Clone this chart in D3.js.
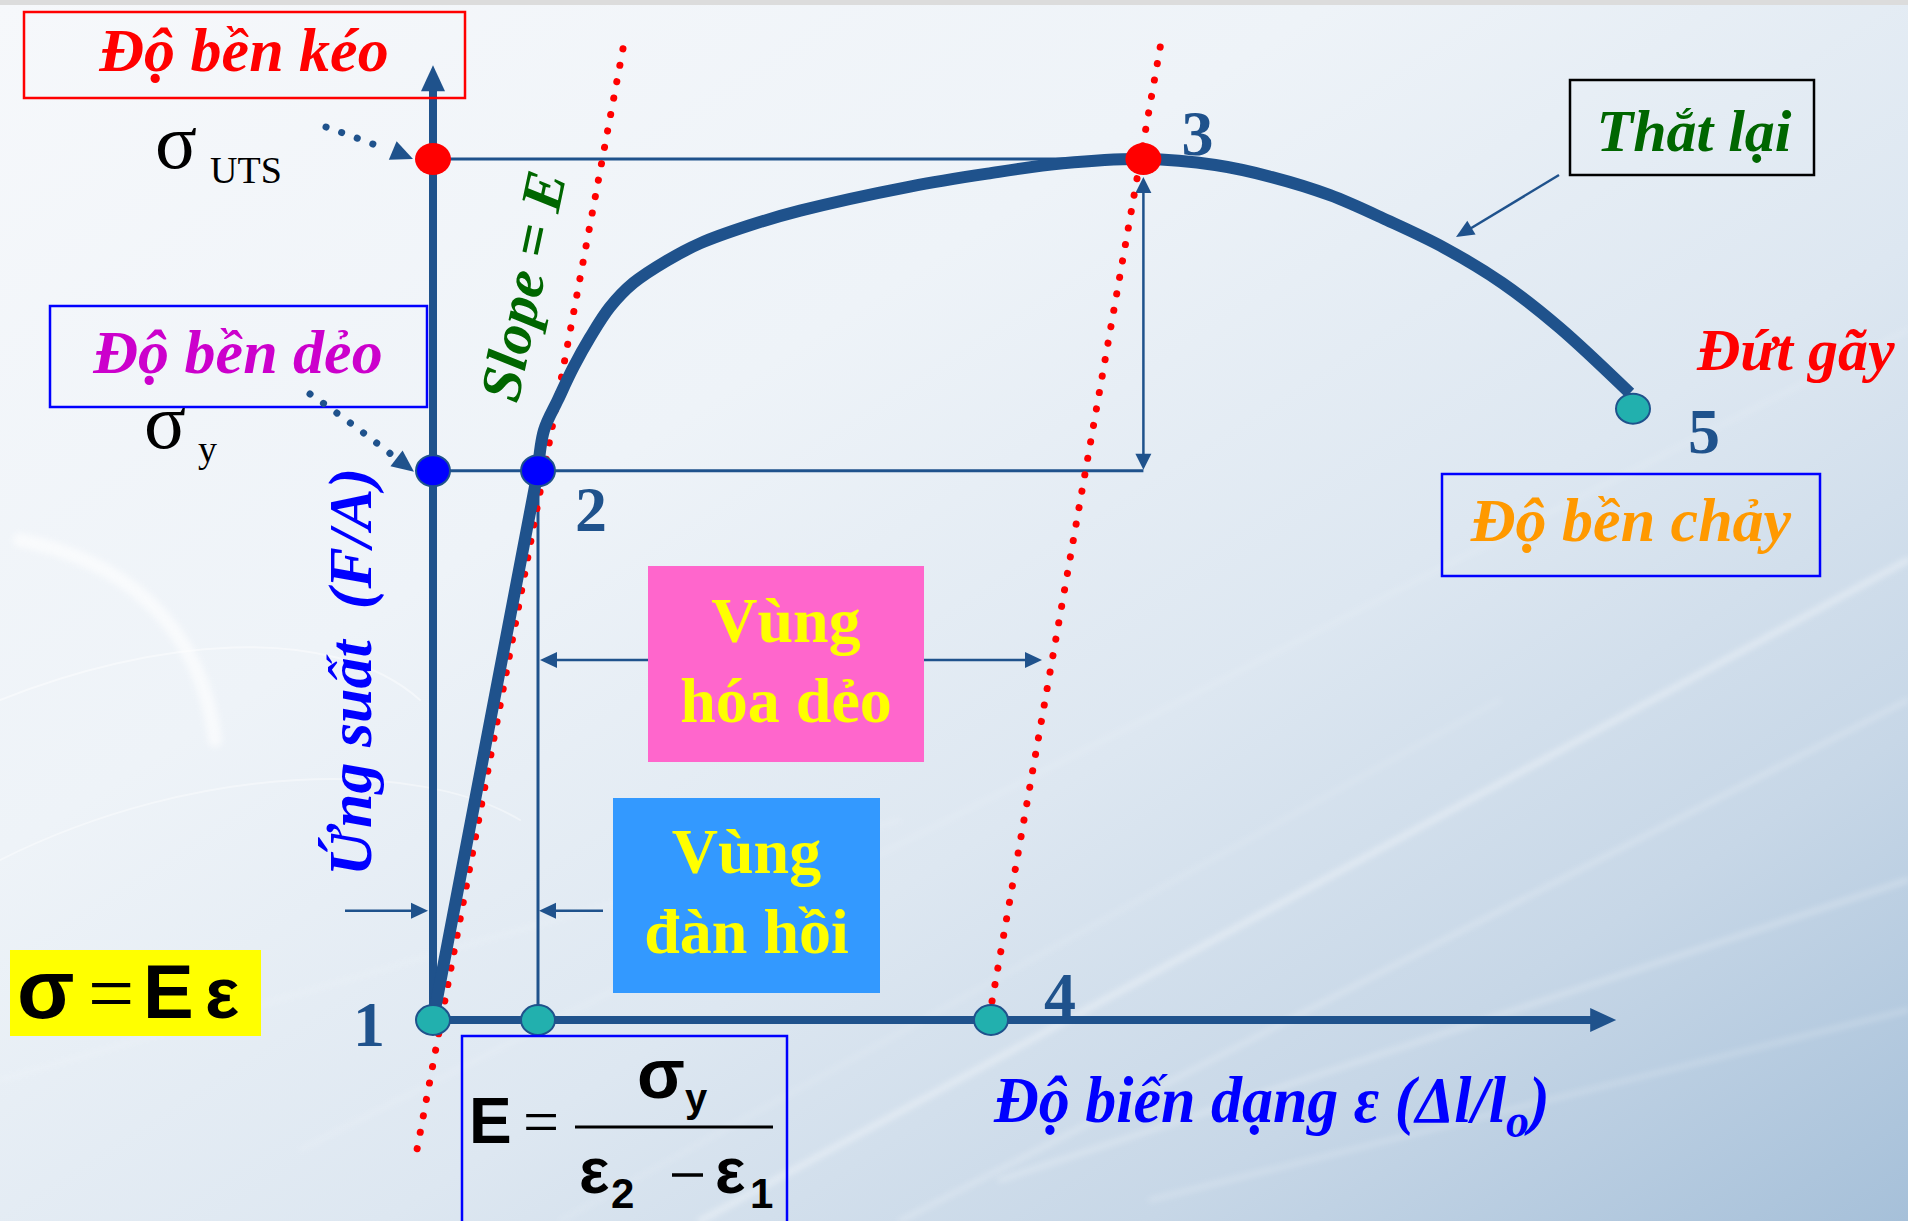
<!DOCTYPE html>
<html><head><meta charset="utf-8">
<script src="https://cdn.jsdelivr.net/npm/d3@7"></script>
<style>
html,body{margin:0;padding:0;overflow:hidden;background:#eef2f7}
svg{display:block}
text{font-family:"Liberation Serif","Times New Roman",serif}
.sans{font-family:"Liberation Sans",Arial,sans-serif}
</style></head><body>
<svg id="chart" width="1908" height="1221"></svg>
<script>
// Engineering stress–strain curve: strain as % of the plotted span, stress as % of UTS
const curveStrain = [0, 8.75, 9.25, 10.4, 11.7, 13.1, 14.75, 16.7, 19.5, 22.25, 26.4, 30.6, 39.75, 46.2, 52.5, 59.2, 65.2, 69.9, 74.75, 79.5, 84.25, 89.1, 93.8, 99.75];
const curveStress = [0, 63.8, 68.5, 72.0, 75.8, 79.3, 82.8, 85.6, 88.2, 90.2, 92.3, 94.0, 96.8, 98.3, 99.5, 100, 99.3, 97.9, 95.8, 92.9, 89.7, 85.6, 80.5, 72.8];

// Characteristic points
const yieldStrain = 8.75, yieldStress = 63.8;
const utsStrain = 59.2, utsStress = 100;
const offsetStrain = 46.5;
const fractureStrain = 100, fractureStress = 71.0;

// Markers: strain, stress, kind
const markerStrain = [0, yieldStrain, offsetStrain, 0, yieldStrain, 0, utsStrain, fractureStrain];
const markerStress = [0, 0, 0, yieldStress, yieldStress, utsStress, utsStress, fractureStress];
const markerKind = ["base", "base", "base", "yield", "yield", "uts", "uts", "base"];

// Numbered points
const pointLabels = ["1", "2", "3", "4", "5"];
const pointStrain = [0, yieldStrain, utsStrain, offsetStrain, fractureStrain];
const pointStress = [0, yieldStress, utsStress, 0, fractureStress];

// Red dotted lines of slope E (through origin, and offset through point 4)
const slopeLineStrain = [15.83, -1.42];
const slopeLineStress = [112.8, -15.7];
const offsetLineStrain = [60.6, offsetStrain];
const offsetLineStress = [113.0, 1.5];

// Axis extents
const axisStrainMax = 98.6;
const axisStressMax = 110.9;

// Region arrow levels (stress)
const plasticArrowStress = 41.8;
const plasticArrowEnd = 50.75;
const elasticArrowStress = 12.7;

const DARK = "#1f528c";
const svg = d3.select("#chart");
const x = d3.scaleLinear().domain([0, 100]).range([433, 1633]);
const y = d3.scaleLinear().domain([0, 100]).range([1020, 159]);

// ---------- background ----------
const defs = svg.append("defs");
const bg = defs.append("linearGradient").attr("id", "bg")
  .attr("x1", "0").attr("y1", "0").attr("x2", "1").attr("y2", "1");
[["0", "#f6f8fb"], ["0.35", "#eef3f8"], ["0.6", "#dde7f1"], ["0.8", "#c7d7e7"], ["1", "#a6c0d9"]]
  .forEach(([o, c]) => bg.append("stop").attr("offset", o).attr("stop-color", c));
const blur = defs.append("filter").attr("id", "soft").attr("x", "-20%").attr("y", "-20%").attr("width", "140%").attr("height", "140%");
blur.append("feGaussianBlur").attr("stdDeviation", 3);

svg.append("rect").attr("width", 1908).attr("height", 1221).attr("fill", "url(#bg)");
svg.append("rect").attr("width", 1908).attr("height", 5).attr("fill", "#dcdcdc");

// faint light streaks
const streaks = svg.append("g").attr("stroke", "#ffffff").attr("fill", "none").attr("stroke-linecap", "round");
[
  [[700, 1221], [1908, 560], 5, 0.45],
  [[900, 1221], [1908, 700], 3, 0.4],
  [[300, 1150], [1908, 330], 2, 0.3],
  [[1000, 1180], [1908, 880], 4, 0.35],
  [[0, 1080], [900, 820], 2, 0.3],
  [[560, 1221], [1500, 700], 2, 0.3],
  [[1150, 1200], [1908, 1010], 3, 0.35]
].forEach(([a, b, w, o]) => streaks.append("path")
  .attr("d", `M${a[0]},${a[1]}L${b[0]},${b[1]}`).attr("stroke-width", w).attr("opacity", o).attr("filter", "url(#soft)"));
streaks.append("path").attr("d", "M20,540 C120,560 200,620 215,740").attr("stroke-width", 14).attr("opacity", 0.6).attr("filter", "url(#soft)");
streaks.append("path").attr("d", "M0,700 C150,640 330,620 420,700").attr("stroke-width", 2).attr("opacity", 0.45);
streaks.append("path").attr("d", "M0,860 C200,760 420,760 520,820").attr("stroke-width", 2).attr("opacity", 0.4);

// ---------- helpers ----------
function arrowHead(g, tip, dir, len, hw, fill) {
  const n = Math.hypot(dir[0], dir[1]), ux = dir[0] / n, uy = dir[1] / n;
  const bx = tip[0] - ux * len, by = tip[1] - uy * len, px = -uy, py = ux;
  g.append("path")
    .attr("d", `M${tip[0]},${tip[1]}L${bx + px * hw},${by + py * hw}L${bx - px * hw},${by - py * hw}Z`)
    .attr("fill", fill);
}
function segment(g, x1, y1, x2, y2, w, color) {
  g.append("line").attr("x1", x1).attr("y1", y1).attr("x2", x2).attr("y2", y2)
    .attr("stroke", color).attr("stroke-width", w);
}

const guides = svg.append("g");

// reference lines at UTS and yield stress
segment(guides, x(0), y(utsStress), x(utsStrain), y(utsStress), 3, DARK);
segment(guides, x(0), y(yieldStress), x(utsStrain), y(yieldStress), 3, DARK);
segment(guides, x(yieldStrain), y(yieldStress), x(yieldStrain), y(0), 3, DARK);

// double arrow between yield and UTS levels
segment(guides, x(utsStrain), y(utsStress) + 24, x(utsStrain), y(yieldStress) - 4, 2.5, DARK);
arrowHead(guides, [x(utsStrain), y(utsStress) + 18], [0, -1], 16, 8, DARK);
arrowHead(guides, [x(utsStrain), y(yieldStress) - 1], [0, 1], 16, 8, DARK);

// plastic region arrows
const pBox = {x: 648, y: 566, w: 276, h: 196};
const eBox = {x: 613, y: 798, w: 267, h: 195};
segment(guides, x(yieldStrain) + 14, y(plasticArrowStress), pBox.x, y(plasticArrowStress), 2.5, DARK);
arrowHead(guides, [x(yieldStrain) + 2, y(plasticArrowStress)], [-1, 0], 17, 8, DARK);
segment(guides, pBox.x + pBox.w, y(plasticArrowStress), x(plasticArrowEnd) - 12, y(plasticArrowStress), 2.5, DARK);
arrowHead(guides, [x(plasticArrowEnd), y(plasticArrowStress)], [1, 0], 17, 8, DARK);

// elastic region arrows
segment(guides, x(yieldStrain) + 14, y(elasticArrowStress), eBox.x - 10, y(elasticArrowStress), 2.5, DARK);
arrowHead(guides, [x(yieldStrain) + 1, y(elasticArrowStress)], [-1, 0], 17, 8, DARK);
segment(guides, 345, y(elasticArrowStress), x(0) - 18, y(elasticArrowStress), 2.5, DARK);
arrowHead(guides, [x(0) - 5, y(elasticArrowStress)], [1, 0], 17, 8, DARK);

// ---------- red dotted lines of slope E ----------
const straight = d3.line().x(d => x(d[0])).y(d => y(d[1]));
[[slopeLineStrain, slopeLineStress], [offsetLineStrain, offsetLineStress]].forEach(([sx, sy]) => {
  svg.append("path").attr("d", straight(d3.zip(sx, sy)))
    .attr("fill", "none").attr("stroke", "#ff0000").attr("stroke-width", 7)
    .attr("stroke-linecap", "round").attr("stroke-dasharray", "0.1 16.6");
});

// ---------- axes ----------
const axes = svg.append("g");
segment(axes, x(0), y(0) + 4, x(0), y(axisStressMax) + 20, 8, DARK);
arrowHead(axes, [x(0), y(axisStressMax)], [0, -1], 26, 12, DARK);
segment(axes, x(0) - 4, y(0), x(axisStrainMax) - 20, y(0), 8, DARK);
arrowHead(axes, [x(axisStrainMax), y(0)], [1, 0], 26, 12, DARK);

// ---------- stress–strain curve ----------
const pts = d3.zip(curveStrain, curveStress);
svg.append("path")
  .attr("d", d3.line().x(d => x(d[0])).y(d => y(d[1]))(pts.slice(0, 2)))
  .attr("fill", "none").attr("stroke", DARK).attr("stroke-width", 12).attr("stroke-linecap", "round");
svg.append("path")
  .attr("d", d3.line().x(d => x(d[0])).y(d => y(d[1])).curve(d3.curveCatmullRom.alpha(0.5))(pts.slice(1)))
  .attr("fill", "none").attr("stroke", DARK).attr("stroke-width", 12).attr("stroke-linejoin", "round");

// ---------- markers ----------
const markerStyle = {
  base: {fill: "#22b0ae", stroke: DARK, rx: 17, ry: 15},
  yield: {fill: "#0000ff", stroke: DARK, rx: 17, ry: 15.5},
  uts: {fill: "#ff0000", stroke: "none", rx: 18, ry: 16}
};
svg.append("g").selectAll("ellipse")
  .data(d3.range(markerKind.length))
  .join("ellipse")
  .attr("cx", i => x(markerStrain[i]))
  .attr("cy", i => y(markerStress[i]))
  .attr("rx", i => markerStyle[markerKind[i]].rx)
  .attr("ry", i => markerStyle[markerKind[i]].ry)
  .attr("fill", i => markerStyle[markerKind[i]].fill)
  .attr("stroke", i => markerStyle[markerKind[i]].stroke)
  .attr("stroke-width", 2);

// point numbers
const numOffset = [[-80, 26], [37, 60], [38, -4], [53, -3], [55, 44]];
svg.append("g").selectAll("text")
  .data(pointLabels)
  .join("text")
  .attr("x", (d, i) => x(pointStrain[i]) + numOffset[i][0])
  .attr("y", (d, i) => y(pointStress[i]) + numOffset[i][1])
  .attr("font-size", 64).attr("font-weight", "bold").attr("fill", DARK)
  .text(d => d);

// ---------- annotation boxes ----------
function labelBox(b, stroke, label, color, tx, ty, size) {
  svg.append("rect").attr("x", b[0]).attr("y", b[1]).attr("width", b[2]).attr("height", b[3])
    .attr("fill", "none").attr("stroke", stroke).attr("stroke-width", 2.5);
  svg.append("text").attr("x", tx).attr("y", ty).attr("text-anchor", "middle")
    .attr("font-size", size).attr("font-weight", "bold").attr("font-style", "italic")
    .attr("fill", color).text(label);
}
labelBox([24, 12, 441, 86], "#ff0000", "Độ bền kéo", "#ff0000", 244, 71, 62);
labelBox([50, 306, 377, 101], "#0000ff", "Độ bền dẻo", "#cc00cc", 238, 373, 62);
labelBox([1570, 80, 244, 95], "#000000", "Thắt lại", "#006600", 1694, 151, 60);
labelBox([1442, 474, 378, 102], "#0000ff", "Độ bền chảy", "#ff9900", 1631, 541, 62);

svg.append("text").attr("x", 1697).attr("y", 370)
  .attr("font-size", 60).attr("font-weight", "bold").attr("font-style", "italic")
  .attr("fill", "#ff0000").text("Đứt gãy");

// necking pointer
segment(svg, 1559, 175, 1468, 230, 2.5, DARK);
arrowHead(svg, [1456, 237], [-103, 62], 18, 8, DARK);

// sigma labels with dotted pointers
const sig = svg.append("g").attr("fill", "#000");
sig.append("text").attr("x", 155).attr("y", 168).attr("font-size", 78).text("σ");
sig.append("text").attr("x", 210).attr("y", 183).attr("font-size", 38).text("UTS");
sig.append("text").attr("x", 144).attr("y", 448).attr("font-size", 78).text("σ");
sig.append("text").attr("x", 198).attr("y", 462).attr("font-size", 38).text("y");

function dottedPointer(d, tip, dir) {
  svg.append("path").attr("d", d).attr("fill", "none").attr("stroke", DARK)
    .attr("stroke-width", 7).attr("stroke-linecap", "round").attr("stroke-dasharray", "0.1 16.5");
  arrowHead(svg, tip, dir, 22, 10, DARK);
}
dottedPointer("M326,127 Q352,136 378,146", [x(0) - 20, y(utsStress)], [19, 8]);
dottedPointer("M310,394 Q345,418 392,455", [x(0) - 19, y(yieldStress) + 1], [19, 14.5]);

// ---------- axis titles ----------
svg.append("text").attr("transform", "translate(371,672) rotate(-90)")
  .attr("text-anchor", "middle").attr("font-size", 62).attr("font-weight", "bold").attr("font-style", "italic")
  .attr("fill", "#0000ff").text("Ứng suất\u00a0\u00a0(F/A)");

svg.append("text").attr("transform", "translate(542,290) rotate(-78)")
  .attr("text-anchor", "middle").attr("font-size", 58).attr("font-weight", "bold").attr("font-style", "italic")
  .attr("fill", "#006600").text("Slope = E");

const xt = svg.append("text").attr("transform", "translate(994,1122) scale(1,1.05)")
  .attr("font-size", 62).attr("font-weight", "bold").attr("font-style", "italic").attr("fill", "#0000ff");
xt.append("tspan").text("Độ biến dạng ε (Δl/l");
xt.append("tspan").attr("dy", 14).attr("font-size", 46).text("o");
xt.append("tspan").attr("dy", -14).text(")");

// ---------- region boxes ----------
svg.append("rect").attr("x", pBox.x).attr("y", pBox.y).attr("width", pBox.w).attr("height", pBox.h).attr("fill", "#ff66cc");
svg.append("rect").attr("x", eBox.x).attr("y", eBox.y).attr("width", eBox.w).attr("height", eBox.h).attr("fill", "#3399ff");
function boxLines(lines, b) {
  lines.forEach(([t, by]) => svg.append("text").attr("x", b.x + b.w / 2).attr("y", by)
    .attr("text-anchor", "middle").attr("font-size", 64).attr("font-weight", "bold")
    .attr("fill", "#ffff00").text(t));
}
boxLines([["Vùng", 642], ["hóa dẻo", 722]], pBox);
boxLines([["Vùng", 873], ["đàn hồi", 953]], eBox);

// ---------- formulas ----------
svg.append("rect").attr("x", 10).attr("y", 950).attr("width", 251).attr("height", 86).attr("fill", "#ffff00");
const f1 = svg.append("g");
f1.append("text").attr("class", "sans").attr("x", 17).attr("y", 1018).attr("font-size", 84).attr("font-weight", "bold").text("σ");
f1.append("text").attr("x", 88).attr("y", 1021).attr("font-size", 82).text("=");
f1.append("text").attr("class", "sans").attr("x", 143).attr("y", 1018).attr("font-size", 76).attr("font-weight", "bold").text("E");
f1.append("text").attr("class", "sans").attr("x", 205).attr("y", 1018).attr("font-size", 72).attr("font-weight", "bold").text("ε");

svg.append("rect").attr("x", 462).attr("y", 1036).attr("width", 325).attr("height", 200)
  .attr("fill", "none").attr("stroke", "#0000ff").attr("stroke-width", 2.5);
const f2 = svg.append("g");
f2.append("text").attr("class", "sans").attr("x", 469).attr("y", 1143).attr("font-size", 64).attr("font-weight", "bold").text("E");
f2.append("text").attr("x", 523).attr("y", 1143).attr("font-size", 64).text("=");
segment(f2, 575, 1127, 773, 1127, 3, "#000");
f2.append("text").attr("class", "sans").attr("x", 637).attr("y", 1098).attr("font-size", 70).attr("font-weight", "bold").text("σ");
f2.append("text").attr("class", "sans").attr("x", 685).attr("y", 1112).attr("font-size", 40).attr("font-weight", "bold").text("y");
f2.append("text").attr("class", "sans").attr("x", 579).attr("y", 1193).attr("font-size", 64).attr("font-weight", "bold").text("ε");
f2.append("text").attr("class", "sans").attr("x", 611).attr("y", 1208).attr("font-size", 42).attr("font-weight", "bold").text("2");
segment(f2, 672, 1175, 703, 1175, 3.5, "#000");
f2.append("text").attr("class", "sans").attr("x", 715).attr("y", 1193).attr("font-size", 64).attr("font-weight", "bold").text("ε");
f2.append("text").attr("class", "sans").attr("x", 750).attr("y", 1208).attr("font-size", 42).attr("font-weight", "bold").text("1");
</script>
</body></html>
